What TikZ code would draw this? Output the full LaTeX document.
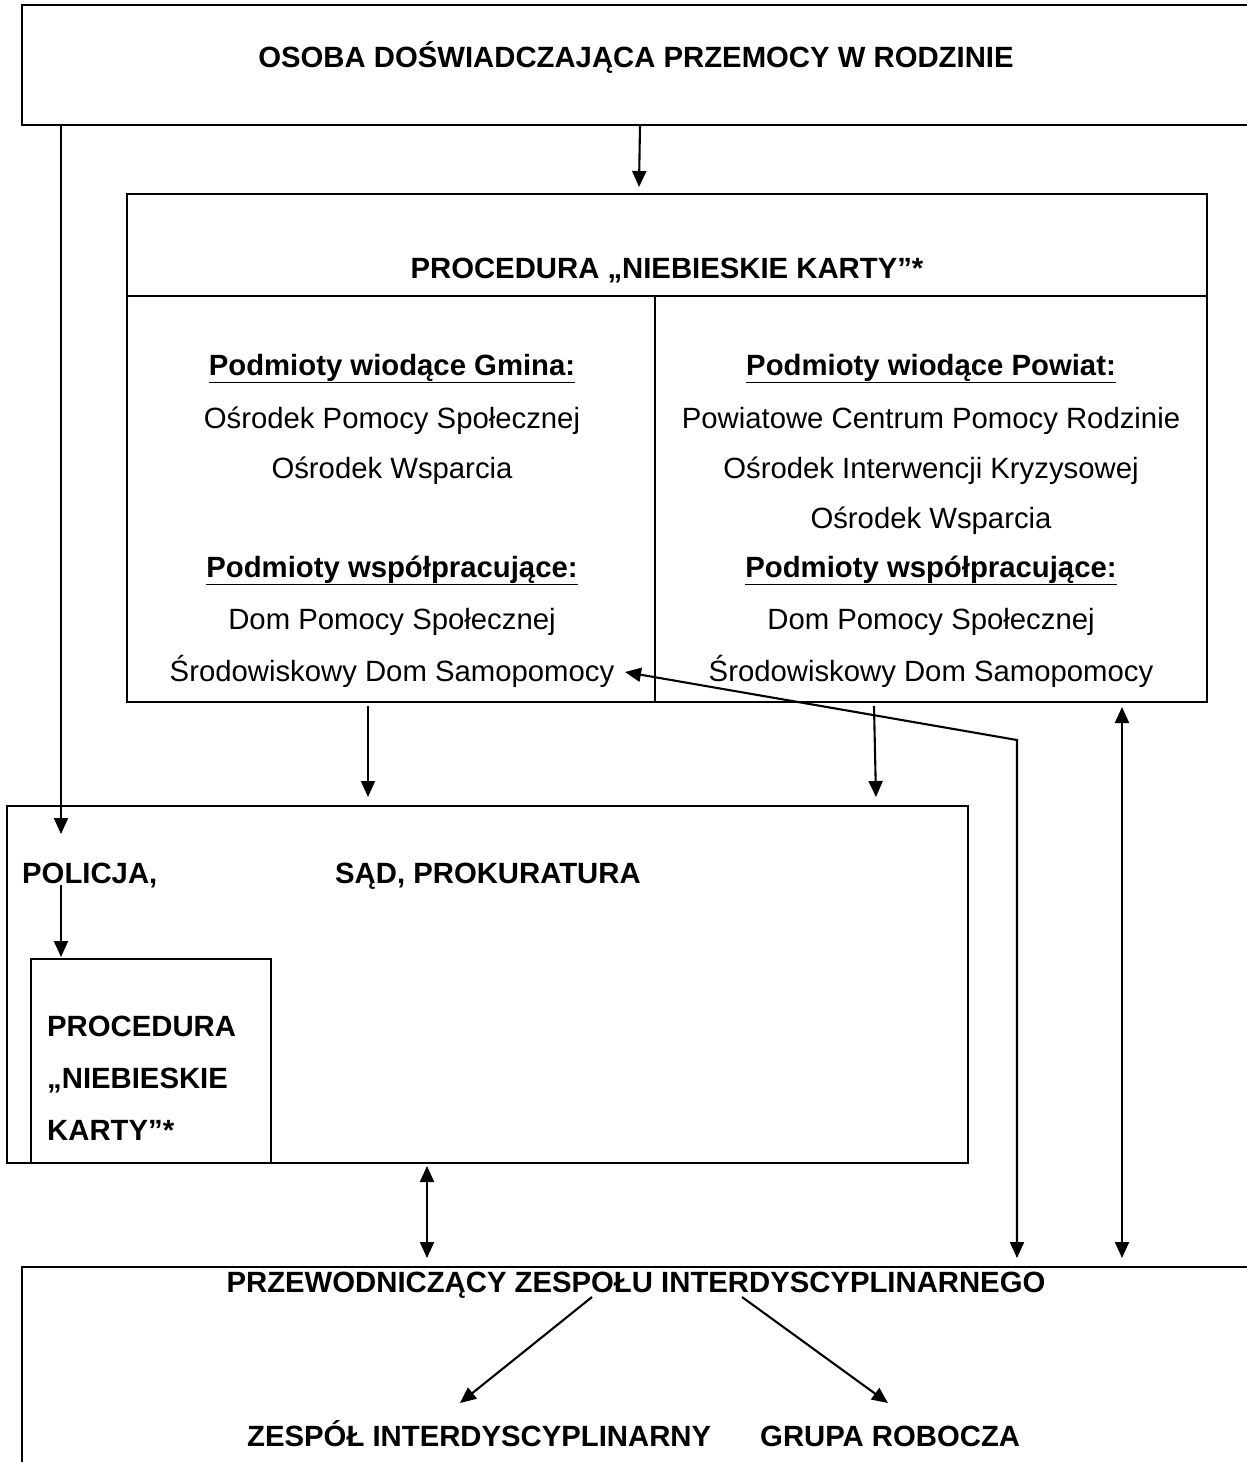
\documentclass[tikz,border=0pt]{standalone}
\usepackage{fontspec}
\setmainfont{Liberation Sans}
\usetikzlibrary{arrows.meta}
\begin{document}
\begin{tikzpicture}[x=1pt,y=-1pt,
  box/.style={draw,line width=2.4pt,inner sep=0pt,outer sep=0pt},
  rule/.style={line width=2pt},
  txt/.style={inner sep=0pt,anchor=base,font=\fontsize{29.3}{35}\selectfont},
  btxt/.style={inner sep=0pt,anchor=base,font=\fontsize{29.3}{35}\selectfont\bfseries},
  ltxt/.style={btxt,anchor=base west},
  conn/.style={line width=2.1pt,-{Triangle[length=16pt,width=14pt]}},
  dconn/.style={line width=2.1pt,{Triangle[length=16pt,width=14pt]}-{Triangle[length=16pt,width=14pt]}}]
\useasboundingbox (0,0) rectangle (1247,1462);
\clip (0,0) rectangle (1247,1462);
\fill[white] (0,0) rectangle (1247,1462);

% boxes
\node[box,minimum width=1240pt,minimum height=120pt] (osoba) at (642,65) {};
\node[box,minimum width=1080pt,minimum height=508pt] (proc) at (667,448) {};
\draw[rule] (proc.north west) ++(0,102) coordinate (hl) -- (proc.north east |- hl);
\draw[rule] (655,296) coordinate (vt) -- (vt |- proc.south);
\node[box,minimum width=961pt,minimum height=357pt] (sad) at (487.5,984.5) {};
\node[box,minimum width=240pt,minimum height=204pt] (inner) at (151,1061) {};
\node[box,minimum width=1240pt,minimum height=210pt] (przew) at (642,1372) {};

% texts
\node[btxt] (tosoba) at (636,67) {OSOBA DOŚWIADCZAJĄCA PRZEMOCY W RODZINIE};
\node[btxt] (tproc) at (667,278) {PROCEDURA „NIEBIESKIE KARTY”*};

\node[btxt] (g1) at (392,375) {\underline{Podmioty wiodące Gmina:}};
\node[txt]  (g2) at (392,428) {Ośrodek Pomocy Społecznej};
\node[txt]  (g3) at (392,478) {Ośrodek Wsparcia};
\node[btxt] (g5) at (392,577) {\underline{Podmioty współpracujące:}};
\node[txt]  (g6) at (392,629) {Dom Pomocy Społecznej};
\node[txt]  (g7) at (392,681) {Środowiskowy Dom Samopomocy};

\node[btxt] (p1) at (931,375) {\underline{Podmioty wiodące Powiat:}};
\node[txt]  (p2) at (931,428) {Powiatowe Centrum Pomocy Rodzinie};
\node[txt]  (p3) at (931,478) {Ośrodek Interwencji Kryzysowej};
\node[txt]  (p4) at (931,528) {Ośrodek Wsparcia};
\node[btxt] (p5) at (931,577) {\underline{Podmioty współpracujące:}};
\node[txt]  (p6) at (931,629) {Dom Pomocy Społecznej};
\node[txt]  (p7) at (931,681) {Środowiskowy Dom Samopomocy};

\node[ltxt] (policja) at (22,883) {POLICJA,};
\node[ltxt] (sadt) at (335,883) {SĄD, PROKURATURA};
\node[ltxt] (i1) at (47,1036) {PROCEDURA};
\node[ltxt] (i2) at (47,1088) {„NIEBIESKIE};
\node[ltxt] (i3) at (47,1140) {KARTY”*};

\node[btxt] (tprzew) at (636,1292) {PRZEWODNICZĄCY ZESPOŁU INTERDYSCYPLINARNEGO};
\node[ltxt] (zesp) at (247,1446) {ZESPÓŁ INTERDYSCYPLINARNY};
\node[ltxt] (grupa) at (760,1446) {GRUPA ROBOCZA};

% connector coordinates
\coordinate (c1s) at (640,125);  \coordinate (c1e) at (639,187);
\coordinate (c2s) at (61,125);   \coordinate (c2e) at (61,834);
\coordinate (c3s) at (61,885);   \coordinate (c3e) at (61,957);
\coordinate (c4s) at (368,706);  \coordinate (c4e) at (368,797);
\coordinate (c5s) at (874,706);  \coordinate (c5e) at (876,797);
\coordinate (k1) at (625,672);   \coordinate (k2) at (1017,740);  \coordinate (k3) at (1017,1258);
\coordinate (d1s) at (1122,707); \coordinate (d1e) at (1122,1258);
\coordinate (d2s) at (427,1166); \coordinate (d2e) at (427,1258);
\coordinate (e1s) at (592,1297); \coordinate (e1e) at (460,1403);
\coordinate (e2s) at (742,1297); \coordinate (e2e) at (888,1403);

\draw[conn] (c1s) -- (c1e);
\draw[conn] (c2s) -- (c2e);
\draw[conn] (c3s) -- (c3e);
\draw[conn] (c4s) -- (c4e);
\draw[conn] (c5s) -- (c5e);
\draw[dconn] (k1) -- (k2) -- (k3);
\draw[dconn] (d1s) -- (d1e);
\draw[dconn] (d2s) -- (d2e);
\draw[conn] (e1s) -- (e1e);
\draw[conn] (e2s) -- (e2e);
\end{tikzpicture}
\end{document}
